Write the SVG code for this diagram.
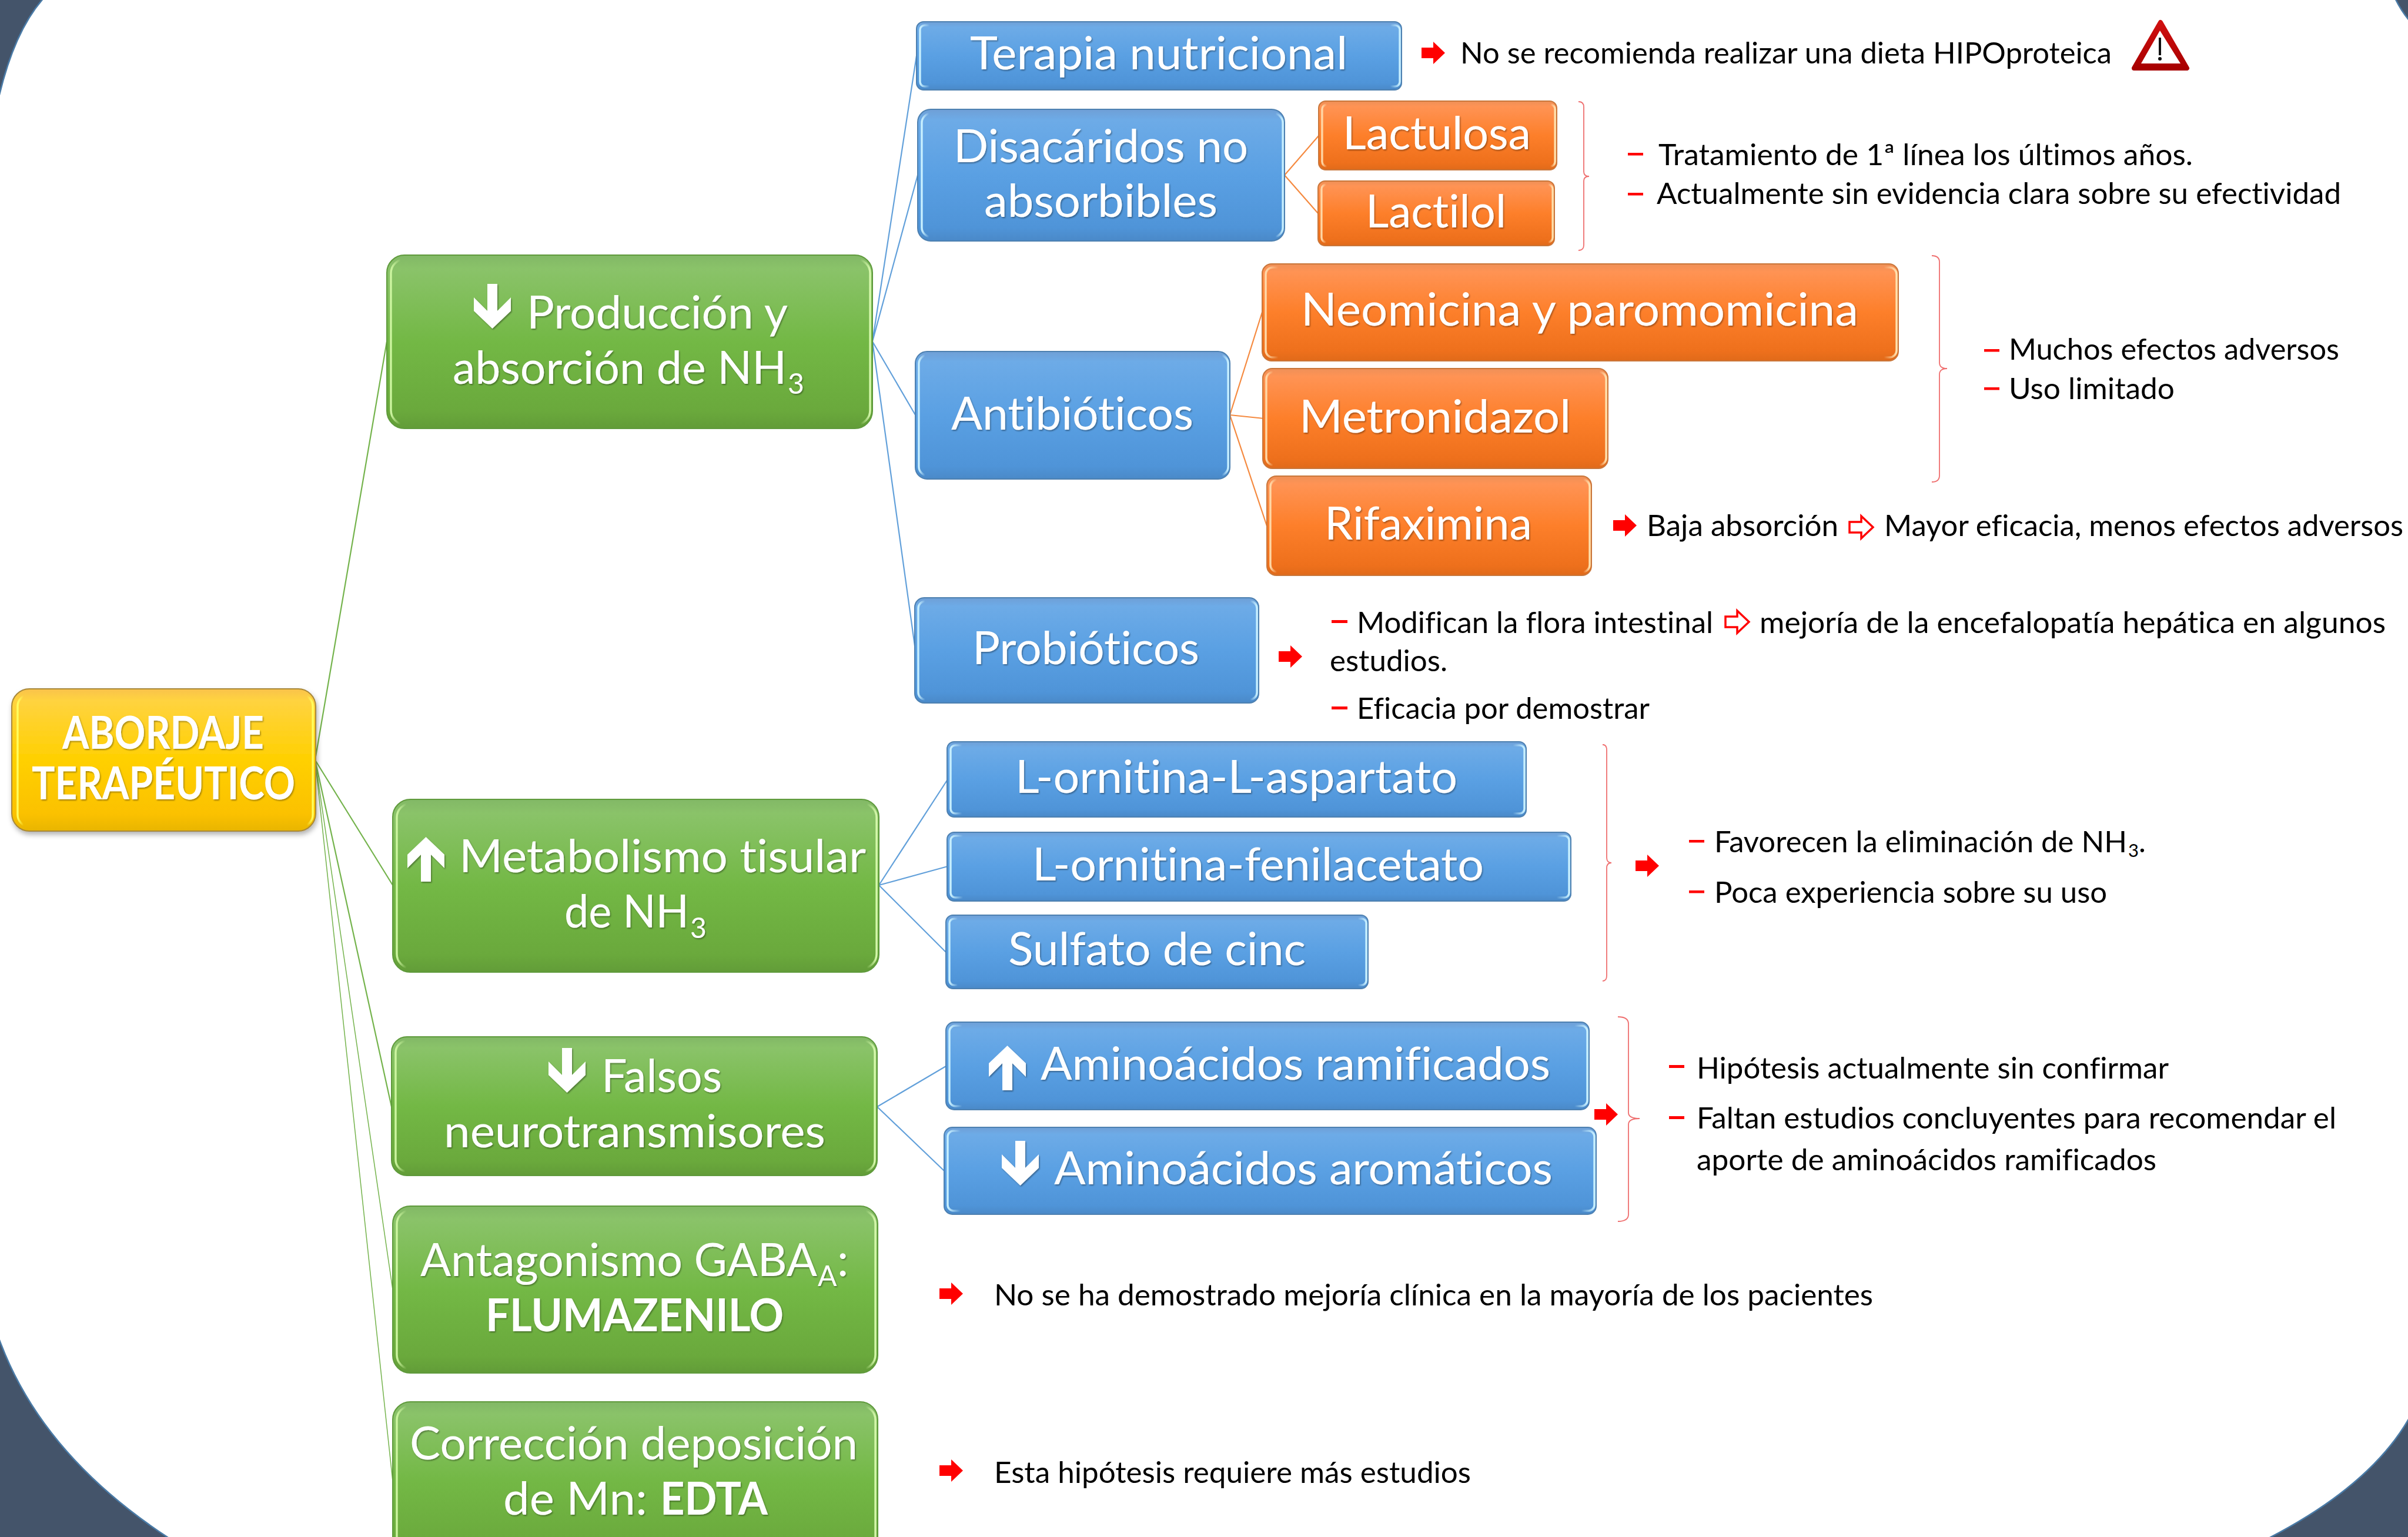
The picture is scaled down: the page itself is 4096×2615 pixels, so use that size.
<svg xmlns="http://www.w3.org/2000/svg" width="4096" height="2615" viewBox="0 0 4096 2615">
<style>
text{font-family:Lato,"Liberation Sans",sans-serif;font-variant-ligatures:none}
.w{fill:#fff;font-size:77px;filter:url(#ts)}
.wb{font-weight:700}
.k{fill:#000;font-size:50px}
.box{stroke-width:2}
.blue{fill:url(#gBlue);stroke:#4d80b0}
.orange{fill:url(#gOrange);stroke:#c9763a}
.green{fill:url(#gGreen);stroke:#5f9a3c}
.yellow{fill:url(#gYellow);stroke:#a8883a}
.hl{fill:none;stroke-width:3.5}
.hBlue{stroke:url(#hBlue)}
.hOrange{stroke:url(#hOrange)}
.hGreen{stroke:url(#hGreen)}
.hYellow{stroke:url(#hYellow)}
.c{fill:none;stroke-width:2.2}
.cg{stroke:#74b34c}
.cb{stroke:#62a0da}
.co{stroke:#f58a40}
.br{fill:none;stroke:#ef6f6f;stroke-width:1.8}
.d{fill:#f00}
.ra{fill:#f00}
.oa{fill:#fff;stroke:#f00;stroke-width:3.5}
.wa{fill:#fff;filter:url(#ts)}
</style>
<defs>
<filter id="ts" x="-5%" y="-10%" width="110%" height="125%"><feDropShadow dx="1.5" dy="2" stdDeviation="1.2" flood-color="#000" flood-opacity="0.35"/></filter>
<filter id="bs" x="-5%" y="-5%" width="110%" height="112%"><feDropShadow dx="2" dy="5" stdDeviation="4" flood-color="#000" flood-opacity="0.3"/></filter>
<linearGradient id="gBlue" x1="0" y1="0" x2="0" y2="1"><stop offset="0" stop-color="#6f9fd6"/><stop offset=".08" stop-color="#6dabe7"/><stop offset=".5" stop-color="#5aa0e3"/><stop offset=".9" stop-color="#4f94d8"/><stop offset="1" stop-color="#4a89c8"/></linearGradient>
<linearGradient id="gOrange" x1="0" y1="0" x2="0" y2="1"><stop offset="0" stop-color="#ee9058"/><stop offset=".08" stop-color="#ff9354"/><stop offset=".5" stop-color="#fd7f2a"/><stop offset=".9" stop-color="#ee701c"/><stop offset="1" stop-color="#e06a1a"/></linearGradient>
<linearGradient id="gGreen" x1="0" y1="0" x2="0" y2="1"><stop offset="0" stop-color="#82b866"/><stop offset=".08" stop-color="#8ac369"/><stop offset=".5" stop-color="#73b845"/><stop offset=".9" stop-color="#6aa93c"/><stop offset="1" stop-color="#629c38"/></linearGradient>
<linearGradient id="gYellow" x1="0" y1="0" x2="0" y2="1"><stop offset="0" stop-color="#f9c24a"/><stop offset=".08" stop-color="#ffd340"/><stop offset=".5" stop-color="#ffd000"/><stop offset=".88" stop-color="#fbc100"/><stop offset="1" stop-color="#e8b500"/></linearGradient>
<linearGradient id="hBlue"><stop offset="0" stop-color="#c8f0ff"/><stop offset=".02" stop-color="#c8f0ff" stop-opacity="0"/><stop offset=".98" stop-color="#c8f0ff" stop-opacity="0"/><stop offset="1" stop-color="#c8f0ff"/></linearGradient>
<linearGradient id="hOrange"><stop offset="0" stop-color="#ffd9a8"/><stop offset=".02" stop-color="#ffd9a8" stop-opacity="0"/><stop offset=".98" stop-color="#ffd9a8" stop-opacity="0"/><stop offset="1" stop-color="#ffe3b0"/></linearGradient>
<linearGradient id="hGreen"><stop offset="0" stop-color="#cdf5a0"/><stop offset=".02" stop-color="#cdf5a0" stop-opacity="0"/><stop offset=".98" stop-color="#cdf5a0" stop-opacity="0"/><stop offset="1" stop-color="#d6f8ac"/></linearGradient>
<linearGradient id="hYellow"><stop offset="0" stop-color="#ffff60"/><stop offset=".02" stop-color="#ffff60" stop-opacity="0"/><stop offset=".98" stop-color="#ffff60" stop-opacity="0"/><stop offset="1" stop-color="#ffff60"/></linearGradient>
<linearGradient id="gWarn" x1="0" y1="0" x2="0" y2="1"><stop offset="0" stop-color="#d01010"/><stop offset="1" stop-color="#a80000"/></linearGradient>
<polygon id="redArrow" points="0,10 20,10 20,0 40,19 20,38 20,28 0,28"/>
<polygon id="upArrow" points="31.5,0 63,30 63,53 40,30 40,76 23,76 23,30 0,53 0,30"/>
<polygon id="downArrow" points="31.5,76 63,46 63,23 40,46 40,0 23,0 23,46 0,23 0,46"/>
</defs>

<rect id="background" width="4096" height="2615" fill="#44546a"/>
<path id="panel" d="M74 -3 L4074 -3 Q4084 18 4099 36 L4099 2411 Q4034 2527 3857 2618 L289 2618 Q68 2474 -3 2274 L-3 170 Q23 55 74 -3 Z" fill="#fff" stroke="#4a7ba7" stroke-width="2.5"/>

<g id="connectors">
<path class="c cg" d="M536 1293L658 581M536 1293L668 1506M536 1293L666 1883"/>
<path class="c cg" style="stroke-width:1.5" d="M536 1293L668 2194M536 1293L668 2520"/>
<path class="c cb" d="M1484 581L1559 95M1484 581L1561 298M1484 581L1557 706M1484 581L1557 1106M1495 1506L1612 1326M1495 1506L1612 1474M1495 1506L1609 1620M1492 1883L1609 1814M1492 1883L1606 1992"/>
<path class="c co" d="M2185 298L2243 231M2185 298L2242 363M2092 706L2147 531M2092 706L2150 712M2092 706L2155 895"/>
</g>

<g id="braces">
<path class="br" d="M2685 173Q2694 173 2694 182L2694 292Q2694 300 2703 300Q2694 300 2694 308L2694 417Q2694 426 2685 426"/>
<path class="br" d="M3286 435Q3299 435 3299 446L3299 617Q3299 627 3312 627Q3299 627 3299 637L3299 809Q3299 820 3286 820"/>
<path class="br" d="M2726 1267Q2733 1267 2733 1276L2733 1459Q2733 1468 2741 1468Q2733 1468 2733 1477L2733 1660Q2733 1669 2726 1669"/>
<path class="br" d="M2752 1730Q2770 1730 2770 1742L2770 1893Q2770 1903 2789 1903Q2770 1903 2770 1913L2770 2066Q2770 2078 2752 2078"/>
</g>

<g id="n-abordaje"><rect class="box yellow" filter="url(#bs)" x="20" y="1172" width="517" height="242" rx="30"/><rect class="hl hYellow" x="30" y="1182" width="502" height="224" rx="20"/>
<text class="w wb" x="106" y="1274" textLength="343" lengthAdjust="spacingAndGlyphs">ABORDAJE</text>
<text class="w wb" x="54" y="1360" textLength="448" lengthAdjust="spacingAndGlyphs">TERAPÉUTICO</text></g>

<g id="n-produccion"><rect class="box green" x="658" y="434" width="826" height="295" rx="30"/><rect class="hl hGreen" x="665" y="441" width="815" height="281" rx="24"/>
<use class="wa" href="#downArrow" x="806" y="483"/>
<text class="w" x="896" y="559" textLength="444" lengthAdjust="spacingAndGlyphs">Producción y</text>
<text class="w" x="770" y="653"><tspan textLength="568" lengthAdjust="spacingAndGlyphs">absorción de NH</tspan><tspan x="1340" y="670" style="font-size:48px">3</tspan></text></g>

<g id="n-metabolismo"><rect class="box green" x="668" y="1360" width="827" height="294" rx="30"/><rect class="hl hGreen" x="675" y="1367" width="816" height="280" rx="24"/>
<use class="wa" href="#upArrow" x="693" y="1424"/>
<text class="w" x="781" y="1484" textLength="692" lengthAdjust="spacingAndGlyphs">Metabolismo tisular</text>
<text class="w" x="960" y="1578"><tspan textLength="212" lengthAdjust="spacingAndGlyphs">de NH</tspan><tspan x="1174" y="1596" style="font-size:48px">3</tspan></text></g>

<g id="n-falsos"><rect class="box green" x="666" y="1764" width="826" height="236" rx="26"/><rect class="hl hGreen" x="673" y="1771" width="815" height="222" rx="20"/>
<use class="wa" href="#downArrow" x="933" y="1783"/>
<text class="w" x="1023" y="1858" textLength="205" lengthAdjust="spacingAndGlyphs">Falsos</text>
<text class="w" x="755" y="1952" textLength="649" lengthAdjust="spacingAndGlyphs">neurotransmisores</text></g>

<g id="n-antagonismo"><rect class="box green" x="668" y="2052" width="825" height="284" rx="30"/><rect class="hl hGreen" x="675" y="2059" width="814" height="270" rx="24"/>
<text class="w" x="715" y="2171"><tspan textLength="675" lengthAdjust="spacingAndGlyphs">Antagonismo GABA</tspan><tspan x="1391" y="2188" style="font-size:48px">A</tspan><tspan x="1424" y="2171">:</tspan></text>
<text class="w wb" x="826" y="2265" textLength="507" lengthAdjust="spacingAndGlyphs">FLUMAZENILO</text></g>

<g id="n-correccion"><rect class="box green" x="668" y="2385" width="825" height="270" rx="30"/><rect class="hl hGreen" x="675" y="2392" width="814" height="256" rx="24"/>
<text class="w" x="697" y="2483" textLength="762" lengthAdjust="spacingAndGlyphs">Corrección deposición</text>
<text class="w" x="856" y="2577"><tspan textLength="245" lengthAdjust="spacingAndGlyphs">de Mn:</tspan><tspan> </tspan><tspan class="wb" x="1123" textLength="183" lengthAdjust="spacingAndGlyphs">EDTA</tspan></text></g>

<g id="n-terapia"><rect class="box blue" x="1559" y="37" width="825" height="116" rx="12"/><rect class="hl hBlue" x="1565" y="43" width="816" height="104" rx="8"/>
<text class="w" x="1650" y="118" textLength="642" lengthAdjust="spacingAndGlyphs">Terapia nutricional</text></g>

<g id="n-disacaridos"><rect class="box blue" x="1561" y="186" width="624" height="224" rx="22"/><rect class="hl hBlue" x="1568" y="193" width="614" height="210" rx="16"/>
<text class="w" x="1622" y="276" textLength="501" lengthAdjust="spacingAndGlyphs">Disacáridos no</text>
<text class="w" x="1674" y="369" textLength="397" lengthAdjust="spacingAndGlyphs">absorbibles</text></g>

<g id="n-lactulosa"><rect class="box orange" x="2243" y="172" width="405" height="117" rx="12"/><rect class="hl hOrange" x="2249" y="178" width="396" height="105" rx="8"/>
<text class="w" x="2284" y="254" textLength="320" lengthAdjust="spacingAndGlyphs">Lactulosa</text></g>

<g id="n-lactilol"><rect class="box orange" x="2242" y="308" width="402" height="110" rx="12"/><rect class="hl hOrange" x="2248" y="314" width="393" height="98" rx="8"/>
<text class="w" x="2323" y="387" textLength="239" lengthAdjust="spacingAndGlyphs">Lactilol</text></g>

<g id="n-antibioticos"><rect class="box blue" x="1557" y="598" width="535" height="217" rx="20"/><rect class="hl hBlue" x="1563" y="604" width="526" height="205" rx="15"/>
<text class="w" x="1618" y="731" textLength="412" lengthAdjust="spacingAndGlyphs">Antibióticos</text></g>

<g id="n-neomicina"><rect class="box orange" x="2147" y="449" width="1082" height="165" rx="16"/><rect class="hl hOrange" x="2153" y="455" width="1073" height="153" rx="12"/>
<text class="w" x="2213" y="554" textLength="948" lengthAdjust="spacingAndGlyphs">Neomicina y paromomicina</text></g>

<g id="n-metronidazol"><rect class="box orange" x="2148" y="627" width="587" height="170" rx="16"/><rect class="hl hOrange" x="2154" y="633" width="578" height="158" rx="12"/>
<text class="w" x="2210" y="736" textLength="462" lengthAdjust="spacingAndGlyphs">Metronidazol</text></g>

<g id="n-rifaximina"><rect class="box orange" x="2155" y="810" width="552" height="169" rx="16"/><rect class="hl hOrange" x="2161" y="816" width="543" height="157" rx="12"/>
<text class="w" x="2253" y="918" textLength="353" lengthAdjust="spacingAndGlyphs">Rifaximina</text></g>

<g id="n-probioticos"><rect class="box blue" x="1556" y="1017" width="585" height="179" rx="16"/><rect class="hl hBlue" x="1562" y="1023" width="576" height="167" rx="12"/>
<text class="w" x="1654" y="1130" textLength="386" lengthAdjust="spacingAndGlyphs">Probióticos</text></g>

<g id="n-aspartato"><rect class="box blue" x="1611" y="1262" width="985" height="128" rx="12"/><rect class="hl hBlue" x="1617" y="1268" width="976" height="116" rx="8"/>
<text class="w" x="1727" y="1349" textLength="752" lengthAdjust="spacingAndGlyphs">L-ornitina-L-aspartato</text></g>

<g id="n-fenilacetato"><rect class="box blue" x="1611" y="1416" width="1061" height="117" rx="12"/><rect class="hl hBlue" x="1617" y="1422" width="1052" height="105" rx="8"/>
<text class="w" x="1756" y="1498" textLength="768" lengthAdjust="spacingAndGlyphs">L-ornitina-fenilacetato</text></g>

<g id="n-sulfato"><rect class="box blue" x="1609" y="1557" width="718" height="125" rx="12"/><rect class="hl hBlue" x="1615" y="1563" width="709" height="113" rx="8"/>
<text class="w" x="1715" y="1642" textLength="506" lengthAdjust="spacingAndGlyphs">Sulfato de cinc</text></g>

<g id="n-ramificados"><rect class="box blue" x="1609" y="1739" width="1094" height="149" rx="14"/><rect class="hl hBlue" x="1615" y="1745" width="1085" height="137" rx="10"/>
<use class="wa" href="#upArrow" x="1682" y="1779"/>
<text class="w" x="1770" y="1837" textLength="867" lengthAdjust="spacingAndGlyphs">Aminoácidos ramificados</text></g>

<g id="n-aromaticos"><rect class="box blue" x="1606" y="1918" width="1109" height="148" rx="14"/><rect class="hl hBlue" x="1612" y="1924" width="1100" height="136" rx="10"/>
<use class="wa" href="#downArrow" x="1704" y="1941"/>
<text class="w" x="1793" y="2015" textLength="848" lengthAdjust="spacingAndGlyphs">Aminoácidos aromáticos</text></g>

<g id="notes">
<use class="ra" href="#redArrow" x="2418" y="71"/>
<text class="k" x="2484" y="108" textLength="1108" lengthAdjust="spacingAndGlyphs">No se recomienda realizar una dieta HIPOproteica</text>
<g id="warning"><polygon points="3675,38 3720,116 3630,116" fill="url(#gWarn)" stroke="url(#gWarn)" stroke-width="8" stroke-linejoin="round"/><polygon points="3674,52 3642,108 3709,108" fill="#fff"/><rect x="3672" y="64" width="4" height="30" fill="#111"/><circle cx="3674" cy="100" r="3" fill="#111"/></g>

<rect class="d" x="2769" y="260" width="26" height="4.5"/>
<text class="k" x="2821" y="281" textLength="909" lengthAdjust="spacingAndGlyphs">Tratamiento de 1ª línea los últimos años.</text>
<rect class="d" x="2769" y="328" width="26" height="4.5"/>
<text class="k" x="2818" y="347" textLength="1164" lengthAdjust="spacingAndGlyphs">Actualmente sin evidencia clara sobre su efectividad</text>

<rect class="d" x="3375" y="594" width="26" height="4.5"/>
<text class="k" x="3417" y="612" textLength="562" lengthAdjust="spacingAndGlyphs">Muchos efectos adversos</text>
<rect class="d" x="3375" y="659" width="26" height="4.5"/>
<text class="k" x="3417" y="679" textLength="282" lengthAdjust="spacingAndGlyphs">Uso limitado</text>

<use class="ra" href="#redArrow" x="2744" y="875"/>
<text class="k" x="2801" y="912" textLength="326" lengthAdjust="spacingAndGlyphs">Baja absorción</text>
<use class="oa" href="#redArrow" x="3146" y="878"/>
<text class="k" x="3205" y="912" textLength="883" lengthAdjust="spacingAndGlyphs">Mayor eficacia, menos efectos adversos</text>

<use class="ra" href="#redArrow" x="2175" y="1098"/>
<rect class="d" x="2265" y="1055" width="27" height="5"/>
<text class="k" x="2308" y="1077" textLength="606" lengthAdjust="spacingAndGlyphs">Modifican la flora intestinal</text>
<use class="oa" href="#redArrow" x="2935" y="1039"/>
<text class="k" x="2993" y="1077" textLength="1065" lengthAdjust="spacingAndGlyphs">mejoría de la encefalopatía hepática en algunos</text>
<text class="k" x="2262" y="1142" textLength="200" lengthAdjust="spacingAndGlyphs">estudios.</text>
<rect class="d" x="2265" y="1202" width="27" height="5"/>
<text class="k" x="2308" y="1223" textLength="498" lengthAdjust="spacingAndGlyphs">Eficacia por demostrar</text>

<use class="ra" href="#redArrow" x="2782" y="1454"/>
<rect class="d" x="2873" y="1429" width="26" height="4.5"/>
<text class="k" x="2916" y="1450"><tspan textLength="702" lengthAdjust="spacingAndGlyphs">Favorecen la eliminación de NH</tspan><tspan x="3620" y="1458" style="font-size:31px">3</tspan><tspan x="3638" y="1450">.</tspan></text>
<rect class="d" x="2873" y="1515" width="26" height="4.5"/>
<text class="k" x="2916" y="1536" textLength="668" lengthAdjust="spacingAndGlyphs">Poca experiencia sobre su uso</text>

<use class="ra" href="#redArrow" x="2712" y="1877"/>
<rect class="d" x="2839" y="1812" width="26" height="5"/>
<text class="k" x="2886" y="1835" textLength="803" lengthAdjust="spacingAndGlyphs">Hipótesis actualmente sin confirmar</text>
<rect class="d" x="2839" y="1899" width="26" height="5"/>
<text class="k" x="2886" y="1920" textLength="1088" lengthAdjust="spacingAndGlyphs">Faltan estudios concluyentes para recomendar el</text>
<text class="k" x="2886" y="1991" textLength="782" lengthAdjust="spacingAndGlyphs">aporte de aminoácidos ramificados</text>

<use class="ra" href="#redArrow" x="1598" y="2182"/>
<text class="k" x="1691" y="2221" textLength="1495" lengthAdjust="spacingAndGlyphs">No se ha demostrado mejoría clínica en la mayoría de los pacientes</text>
<use class="ra" href="#redArrow" x="1598" y="2483"/>
<text class="k" x="1691" y="2523" textLength="811" lengthAdjust="spacingAndGlyphs">Esta hipótesis requiere más estudios</text>
</g>
</svg>
